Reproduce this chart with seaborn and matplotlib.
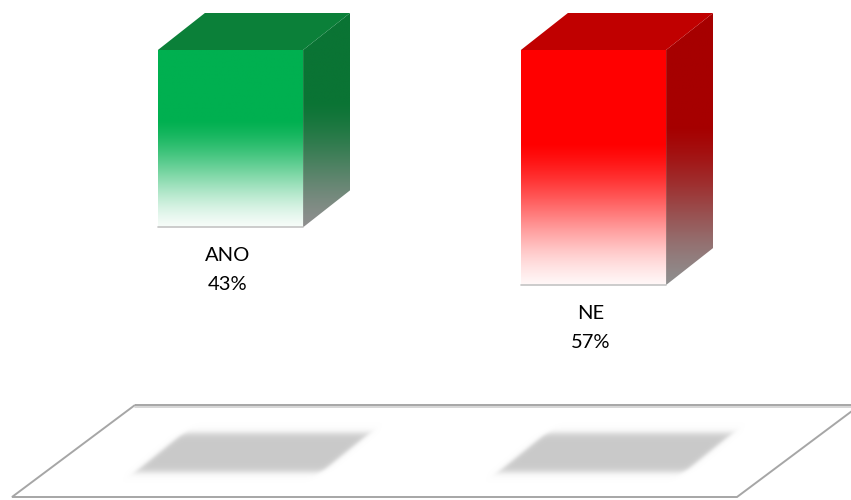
import numpy as np
import pandas as pd
import matplotlib
matplotlib.use("Agg")
import matplotlib.pyplot as plt
import seaborn as sns
from matplotlib.patches import Polygon
from matplotlib.colors import to_rgb

# ---- data ----
categories = ["ANO", "NE"]
values = [43, 57]
value_labels = ["43%", "57%"]
front_colors = ["#00B050", "#FF0000"]
top_colors = ["#0B8039", "#C00000"]
side_colors = ["#0A7434", "#A60000"]

sns.set_theme(style="white")
plt.rcParams['font.family'] = ['Lato', 'DejaVu Sans']

W, H = 851, 500
fig = plt.figure(figsize=(W / 100, H / 100), dpi=100)
fig.patch.set_facecolor("white")

# decoration axes in pixel space (floor + shadows)
axd = fig.add_axes([0, 0, 1, 1], zorder=0)
axd.set_xlim(0, W)
axd.set_ylim(H, 0)
axd.set_axis_off()

# main axes for bars
ax = fig.add_axes([0, 0, 1, 1], zorder=1)
ax.patch.set_alpha(0)
df = pd.DataFrame({"cat": categories, "val": values})
sns.barplot(data=df, x="cat", y="val", ax=ax, width=0.4,
            hue="cat", palette=front_colors, legend=False, saturation=1)
ax.set_axis_off()

px_x = 363.0          # pixels per category unit
cx0 = 230.5           # pixel of first category
ky = 4.123            # pixels per percent
y0px = 50.0           # pixel of value 0
ax.set_xlim(-cx0 / px_x, (W - cx0) / px_x)
ax.set_ylim((H - y0px) / ky, -y0px / ky)

dx = 47 / px_x
dy = -37 / ky

def grad_img(c, n, solid_frac, end_rgb, end_mix=1.0):
    c = np.array(to_rgb(c))
    e = np.array(end_rgb)
    t = np.linspace(0, 1, n)
    f = np.clip((t - solid_frac) / (1 - solid_frac), 0, 1)
    f = (3 * f ** 2 - 2 * f ** 3) * 0.5 + f * 0.5
    f = f * end_mix
    rgb = c[None, :] * (1 - f[:, None]) + e[None, :] * f[:, None]
    return rgb[:, None, :]

for i, p in enumerate(ax.patches):
    x0, w, h = p.get_x(), p.get_width(), p.get_height()
    p.set_facecolor("none")
    p.set_edgecolor("none")
    # front face gradient
    img = grad_img(front_colors[i], 400, 0.40, (1.0, 1.0, 1.0), 0.97)
    im = ax.imshow(img, extent=(x0, x0 + w, 0, h), origin="lower",
                   aspect="auto", interpolation="bilinear", zorder=3)
    front = Polygon([(x0, 0), (x0 + w, 0), (x0 + w, h), (x0, h)],
                    closed=True, facecolor="none", edgecolor="none",
                    transform=ax.transData)
    ax.add_patch(front)
    im.set_clip_path(front)
    ax.plot([x0, x0 + w], [h, h], color="#C4C4C4", lw=1.2, zorder=4)
    # side face
    side = Polygon([(x0 + w, 0), (x0 + w + dx, dy), (x0 + w + dx, h + dy),
                    (x0 + w, h)], closed=True, facecolor="none",
                   edgecolor="none", transform=ax.transData)
    ax.add_patch(side)
    simg = grad_img(side_colors[i], 400, 0.42, (0.56, 0.56, 0.56))
    sim = ax.imshow(simg, extent=(x0 + w, x0 + w + dx, dy, h), origin="lower",
                    aspect="auto", interpolation="bilinear", zorder=3)
    sim.set_clip_path(side)
    # top face
    top = Polygon([(x0, 0), (x0 + w, 0), (x0 + w + dx, dy), (x0 + dx, dy)],
                  closed=True, facecolor=top_colors[i], edgecolor="none",
                  zorder=3)
    ax.add_patch(top)
    # labels
    xc = x0 + w / 2 - 3 / px_x
    ax.text(xc, h + 28 / ky, categories[i], ha="center", va="center",
            fontsize=14.5, color="#000000", zorder=5)
    ax.text(xc, h + 57 / ky, value_labels[i], ha="center", va="center",
            fontsize=14.5, color="#000000", zorder=5)

    # floor shadow (pixel space), centred under bar
    bx = cx0 + (x0 + w / 2) * px_x + 22
    yt, yb = 433.0, 472.0
    half = 93.0
    shift = 48.0
    gx0, gx1 = int(bx - half - shift / 2 - 15), int(bx + half + shift / 2 + 15)
    gy0, gy1 = int(yt - 12), int(yb + 12)
    xs = np.arange(gx0, gx1) + 0.5
    ys = np.arange(gy0, gy1) + 0.5
    X, Y = np.meshgrid(xs, ys)
    tt = (Y - yt) / (yb - yt)
    xp = X + shift * (tt - 0.5) - bx
    s = 4.0
    def soft(d):
        return 1 / (1 + np.exp(-d / (s / 2)))
    a = soft(half - np.abs(xp)) * soft(np.minimum(Y - yt, yb - Y))
    rgba = np.zeros(X.shape + (4,))
    rgba[..., :3] = 0.79
    rgba[..., 3] = a
    axd.imshow(rgba, extent=(gx0, gx1, gy1, gy0), origin="upper",
               interpolation="bilinear", zorder=2)

axd.set_xlim(0, W)
axd.set_ylim(H, 0)

# floor outline
floor = [(135, 405), (860, 405), (737, 497), (12, 497)]
axd.add_patch(Polygon(floor, closed=True, facecolor="none",
                      edgecolor="#A6A6A6", lw=1.4, zorder=1))
axd.plot([135, 860], [406.5, 406.5], color="#CFCFCF", lw=1.2, zorder=1)

fig.savefig("out.png", dpi=100, facecolor="white")
